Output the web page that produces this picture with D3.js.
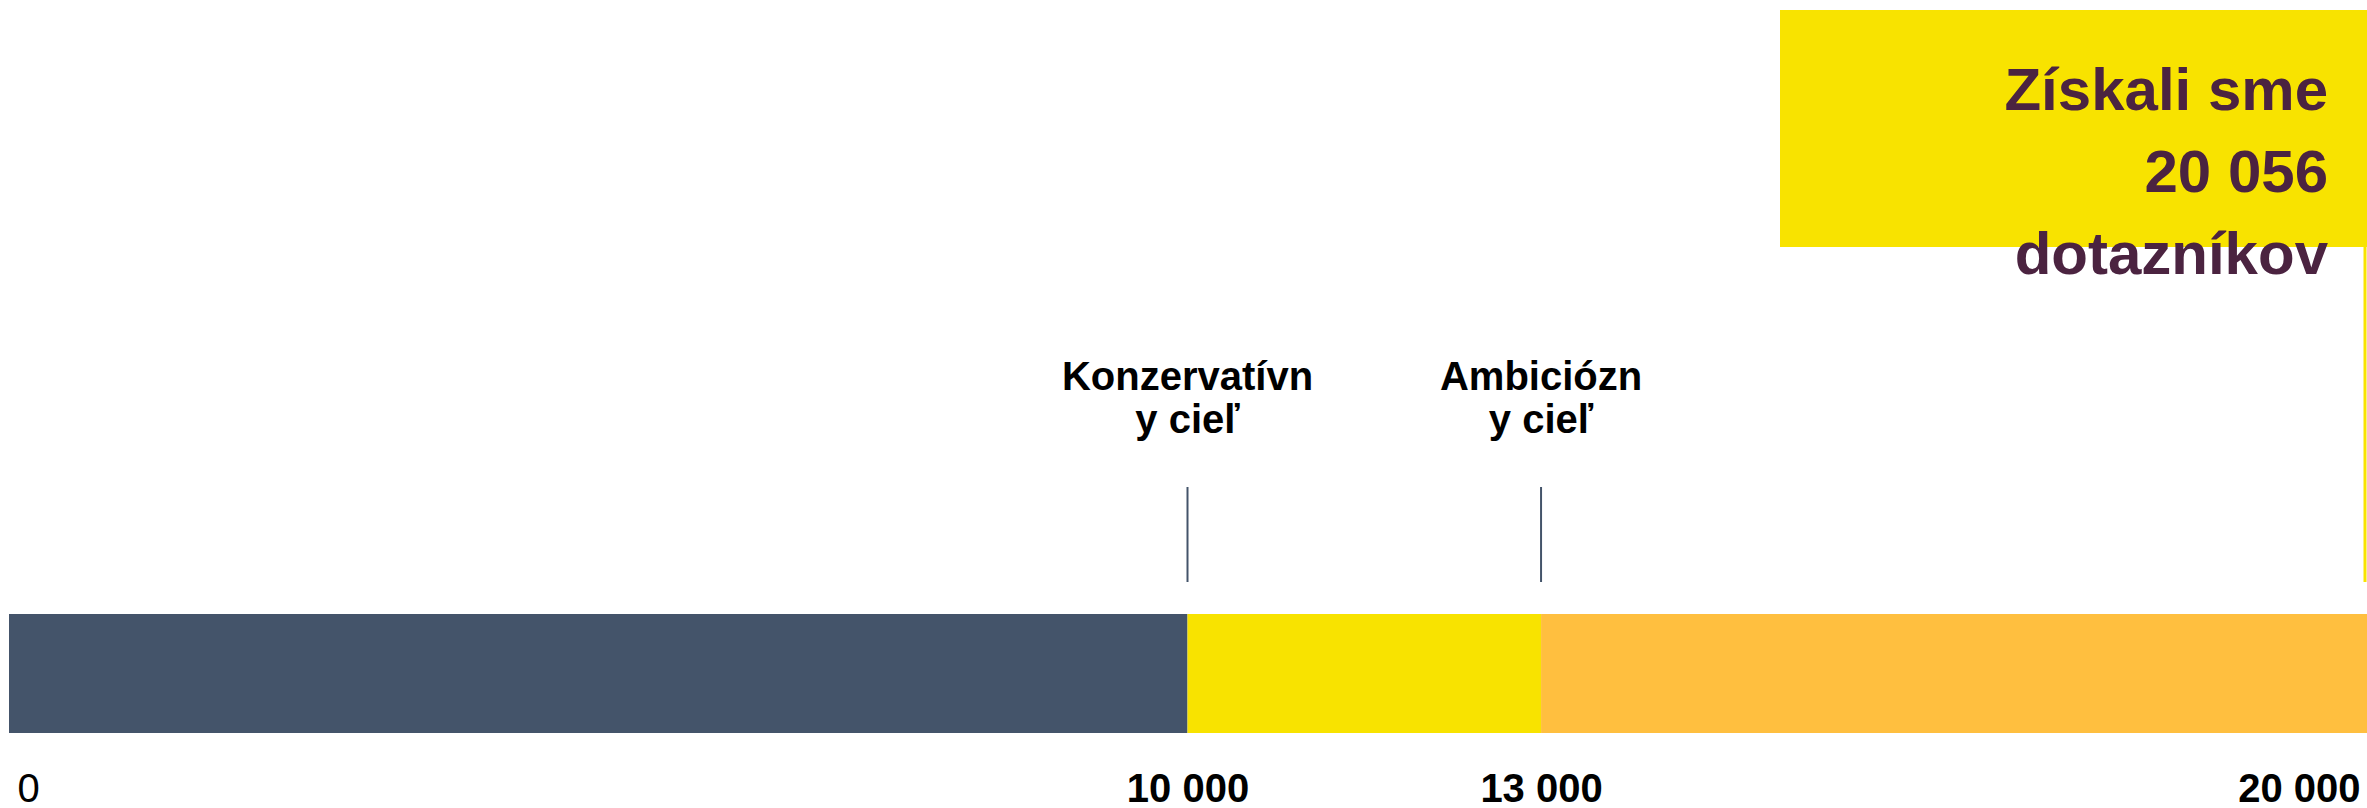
<!DOCTYPE html>
<html>
<head>
<meta charset="utf-8">
<script src="https://cdn.jsdelivr.net/npm/d3@7"></script>
<style>
  body { margin: 0; background: #fff; }
  svg { display: block; font-family: "Liberation Sans", Arial, sans-serif; }
</style>
</head>
<body>
<div class="progress-chart"></div>
<script>
// segments of the progress bar
var segStarts = [0, 10000, 13000];
var segEnds = [10000, 13000, 20056];
var segColors = ["#44546A", "#F8E300", "#FFBF3F"];

// target markers
var targets = [10000, 13000];
var targetLabels = [["Konzervatívn", "y cieľ"], ["Ambiciózn", "y cieľ"]];

// axis
var tickValues = [0, 10000, 13000, 20000];
var tickLabels = ["0", "10 000", "13 000", "20 000"];

var reached = 20000;
var headline = ["Získali sme", "20 056", "dotazníkov"];

var width = 2367,
    height = 808;

var svg = d3.select(".progress-chart")
    .append("svg")
    .attr("width", width)
    .attr("height", height);

var xScale = d3.scaleLinear()
    .domain([0, 20000])
    .range([9, 2366]);

var barTop = 614, barH = 119;

// bar segments
svg.selectAll("rect.seg")
    .data(segStarts)
    .enter().append("rect")
    .attr("class", "seg")
    .attr("x", function (d) { return xScale(d); })
    .attr("y", barTop)
    .attr("width", function (d, i) { return xScale(segEnds[i]) - xScale(d); })
    .attr("height", barH)
    .attr("fill", function (d, i) { return segColors[i]; });

// headline box
svg.append("rect")
    .attr("x", 1780)
    .attr("y", 10)
    .attr("width", width - 1780)
    .attr("height", 237)
    .attr("fill", "#F8E300");

svg.append("line")
    .attr("x1", xScale(reached) - 1)
    .attr("x2", xScale(reached) - 1)
    .attr("y1", 247)
    .attr("y2", 582)
    .attr("stroke", "#F8E300")
    .attr("stroke-width", 3);

svg.selectAll("text.head")
    .data(headline)
    .enter().append("text")
    .attr("class", "head")
    .attr("x", 2328)
    .attr("y", function (d, i) { return 110 + i * 82; })
    .attr("text-anchor", "end")
    .attr("font-size", 60)
    .attr("font-weight", "bold")
    .attr("fill", "#4B2340")
    .text(function (d) { return d; });

// target lines + labels
var tg = svg.selectAll("g.target")
    .data(targets)
    .enter().append("g")
    .attr("class", "target");

tg.append("line")
    .attr("x1", function (d) { return xScale(d); })
    .attr("x2", function (d) { return xScale(d); })
    .attr("y1", 487)
    .attr("y2", 582)
    .attr("stroke", "#44546A")
    .attr("stroke-width", 2);

tg.each(function (d, i) {
    d3.select(this).selectAll("text")
        .data(targetLabels[i])
        .enter().append("text")
        .attr("x", xScale(d))
        .attr("y", function (t, j) { return 390 + j * 43; })
        .attr("text-anchor", "middle")
        .attr("font-size", 40)
        .attr("font-weight", "bold")
        .attr("fill", "#000")
        .text(function (t) { return t; });
});

// axis labels
var axis = d3.axisBottom(xScale)
    .tickValues(tickValues)
    .tickSize(0)
    .tickFormat(function (d, i) { return tickLabels[i]; });

var ax = svg.append("g")
    .attr("transform", "translate(0,802)")
    .call(axis);

ax.select(".domain").remove();

ax.selectAll("text")
    .attr("y", 0)
    .attr("dy", null)
    .attr("font-family", "Liberation Sans, Arial, sans-serif")
    .attr("font-size", 40)
    .attr("fill", "#000")
    .attr("font-weight", function (d, i) { return i === 0 ? "normal" : "bold"; })
    .attr("text-anchor", function (d, i) {
        if (i === 0) return "start";
        if (i === tickValues.length - 1) return "end";
        return "middle";
    })
    .attr("dx", function (d, i) {
        if (i === 0) return 8;
        if (i === tickValues.length - 1) return -6;
        return 0;
    });
</script>
</body>
</html>
